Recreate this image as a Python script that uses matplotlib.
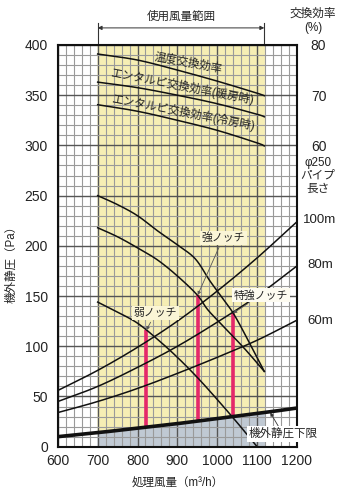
import numpy as np
import matplotlib
matplotlib.use("Agg")
import matplotlib.pyplot as plt
from matplotlib.ticker import MultipleLocator

plt.rcParams['font.family'] = ['Liberation Sans', 'Noto Sans CJK JP', 'DejaVu Sans']

# ---------------- data ----------------
x_ticks = [600, 700, 800, 900, 1000, 1100, 1200]
y_ticks = [0, 50, 100, 150, 200, 250, 300, 350, 400]
eff_ticks = [60, 70, 80]

range_start = 700
range_end = 1118

# efficiency curves (%)
eff_x = [700, 800, 900, 1000, 1100, 1118]
eff_temp = [78.2, 77.0, 75.0, 72.8, 70.4, 69.9]
eff_heat = [72.6, 71.5, 70.0, 68.3, 66.2, 65.7]
eff_cool = [68.1, 66.8, 65.0, 63.0, 60.5, 59.9]

# fan curves (Pa)
xs_tokkyo = [700, 750, 800, 850, 900, 945, 980, 1000, 1040, 1080, 1118]
ps_tokkyo = [250, 241, 230, 215, 201, 187, 166, 155, 133, 104, 75]
xs_kyo = [700, 750, 800, 850, 900, 950, 977, 1020, 1070, 1118]
ps_kyo = [218, 209, 198, 186, 170, 151, 136, 118, 97, 75]
xs_jaku = [700, 750, 800, 850, 900, 950, 1000, 1050, 1100]
ps_jaku = [144, 134, 123, 107, 89, 69, 47, 24, 0]

# pipe (duct) resistance curves (Pa)
pipe_x = [600, 700, 800, 900, 1000, 1100, 1200]
pipe_100 = [56, 76, 99, 125, 155, 188, 224]
pipe_80 = [45, 60, 79, 100, 124, 150, 180]
pipe_60 = [34, 45, 58, 73, 89, 106, 126]

# lower limit of external static pressure
low_x = [600, 700, 800, 900, 1000, 1100, 1200]
low_p = [10, 14, 18.5, 23, 28, 33, 38.5]

# notch operating points
notch_x = [822, 951, 1040]
notch_p = [116, 151, 133]
notch_labels = ['弱ノッチ', '強ノッチ', '特強ノッチ']


def smooth(x, y, n=30):
    x = np.asarray(x, float); y = np.asarray(y, float)
    px = np.concatenate([[2 * x[0] - x[1]], x, [2 * x[-1] - x[-2]]])
    py = np.concatenate([[2 * y[0] - y[1]], y, [2 * y[-1] - y[-2]]])
    ox, oy = [], []
    t = np.linspace(0, 1, n, endpoint=False)
    for i in range(1, len(px) - 2):
        p0, p1, p2, p3 = [np.array([px[j], py[j]]) for j in range(i - 1, i + 3)]
        pts = 0.5 * ((2 * p1)[:, None] + (-p0 + p2)[:, None] * t +
                     (2 * p0 - 5 * p1 + 4 * p2 - p3)[:, None] * t ** 2 +
                     (-p0 + 3 * p1 - 3 * p2 + p3)[:, None] * t ** 3)
        ox.extend(pts[0]); oy.extend(pts[1])
    ox.append(x[-1]); oy.append(y[-1])
    return np.array(ox), np.array(oy)


TXT = '#222222'
fig = plt.figure(figsize=(3.47, 4.91), dpi=100)
ax = fig.add_axes([0.1666, 0.0902, 0.6892, 0.8182])
ax.set_xlim(600, 1200)
ax.set_ylim(0, 400)

yellow = '#f6eeb4'
grayfill = '#c0c9d3'

# fills
lx, ly = smooth(low_x, low_p)
mask = (lx >= range_start) & (lx <= range_end)
ax.fill_between(lx[mask], ly[mask], 400, color=yellow, zorder=0)
ax.fill_between(lx[mask], 0, ly[mask], color=grayfill, zorder=0)

# grid
ax.xaxis.set_major_locator(MultipleLocator(100))
ax.xaxis.set_minor_locator(MultipleLocator(20))
ax.yaxis.set_major_locator(MultipleLocator(50))
ax.yaxis.set_minor_locator(MultipleLocator(10))
ax.grid(which='minor', color='#9a9a9a', lw=0.8, zorder=1)
ax.grid(which='major', color='#555555', lw=1.0, zorder=1)
ax.set_axisbelow(True)
ax.set_xticks(x_ticks)
ax.set_yticks(y_ticks)
ax.tick_params(which='both', length=0, labelsize=10, colors=TXT)
ax.tick_params(axis='y', pad=7)
ax.tick_params(axis='x', pad=5)
for s in ax.spines.values():
    s.set_linewidth(1.5)
    s.set_color('#111111')

# lower limit
ax.plot(lx, ly, color='#111111', lw=2.6, zorder=5)

# pipe curves
for py_ in (pipe_100, pipe_80, pipe_60):
    sx, sy = smooth(pipe_x, py_)
    ax.plot(sx, sy, color='#111111', lw=1.1, zorder=4)

# fan curves
for xx, pp in ((xs_tokkyo, ps_tokkyo), (xs_kyo, ps_kyo), (xs_jaku, ps_jaku)):
    sx, sy = smooth(xx, pp)
    ax.plot(sx, sy, color='#111111', lw=1.1, zorder=4)

# notch bars
for nx, npv in zip(notch_x, notch_p):
    base = np.interp(nx, low_x, low_p)
    ax.plot([nx, nx], [base, npv], color='#e5286a', lw=2.6, zorder=3,
            solid_capstyle='butt')

# efficiency curves on right axis
ax2 = ax.twinx()
ax2.set_ylim(0, 80)
ax2.set_yticks(eff_ticks)
ax2.tick_params(length=0, labelsize=10, colors=TXT, pad=10)
for s in ax2.spines.values():
    s.set_visible(False)
for ev in (eff_temp, eff_heat, eff_cool):
    sx, sy = smooth(eff_x, ev)
    ax2.plot(sx, sy, color='#111111', lw=1.1, zorder=4)

# texts along efficiency curves (each sits just above its curve)
tk = dict(fontsize=8.3, color=TXT, ha='center', va='center', zorder=6)
ax2.text(927, 76.4, '温度交換効率', rotation=-10.5, **tk)
ax2.text(912, 71.8, 'エンタルピ交換効率(暖房時)', rotation=-11, **tk)
ax2.text(914, 66.6, 'エンタルピ交換効率(冷房時)', rotation=-11, **tk)

# notch labels
arrow_kw = dict(arrowstyle='-|>', color='#555555', lw=0.6,
                mutation_scale=5, shrinkA=2, shrinkB=0)
ax.annotate(notch_labels[0], xy=(notch_x[0], notch_p[0]), xytext=(845, 133),
            fontsize=7.8, ha='center', va='center', color=TXT,
            bbox=dict(boxstyle='square,pad=0.15', fc='#faf5d6', ec='none'),
            arrowprops=arrow_kw, zorder=7)
ax.annotate(notch_labels[1], xy=(notch_x[1], notch_p[1]), xytext=(1015, 208),
            fontsize=7.8, ha='center', va='center', color=TXT,
            bbox=dict(boxstyle='square,pad=0.15', fc='#faf5d6', ec='none'),
            arrowprops=arrow_kw, zorder=7)
ax.annotate(notch_labels[2], xy=(notch_x[2], notch_p[2]), xytext=(1110, 151),
            fontsize=7.8, ha='center', va='center', color=TXT,
            bbox=dict(boxstyle='square,pad=0.15', fc='#fdfbf0', ec='none'),
            arrowprops=arrow_kw, zorder=7)

# lower limit label
ax.annotate('機外静圧下限', xy=(1133, 34), xytext=(1165, 12.5),
            fontsize=8.3, ha='center', va='center', color=TXT,
            bbox=dict(boxstyle='square,pad=0.15', fc='white', ec='none'),
            arrowprops=dict(arrowstyle='-|>', color='#333333', lw=0.6,
                            mutation_scale=5, shrinkA=0, shrinkB=0),
            annotation_clip=False, zorder=8)

# usage range arrow on top
ax.plot([range_start, range_start], [400, 422], color='#333333', lw=0.8,
        clip_on=False)
ax.plot([range_end, range_end], [400, 422], color='#333333', lw=0.8,
        clip_on=False)
ax.annotate('', xy=(range_start, 417), xytext=(range_end, 417),
            arrowprops=dict(arrowstyle='<|-|>', color='#333333', lw=0.7,
                            mutation_scale=6, shrinkA=0, shrinkB=0),
            annotation_clip=False)
ax.text((range_start + range_end) / 2, 428, '使用風量範囲', fontsize=8.3,
        ha='center', va='center', color=TXT, clip_on=False)

# right side labels
fig.text(313 / 347, 1 - 14 / 491, '交換効率', fontsize=8.4, ha='center',
         va='center', color=TXT)
fig.text(313 / 347, 1 - 28 / 491, '(%)', fontsize=8.4, ha='center',
         va='center', color=TXT)
for txt, yy in (('φ250', 163), ('パイプ', 176), ('長さ', 189)):
    fig.text(318 / 347, 1 - yy / 491, txt, fontsize=8.4, ha='center',
             va='center', color=TXT)
for txt, yy in (('100m', 220), ('80m', 265), ('60m', 321)):
    fig.text(320 / 347, 1 - yy / 491, txt, fontsize=9.5, ha='center',
             va='center', color=TXT)

ax.set_xlabel('処理風量（m³/h）', fontsize=8.3, color=TXT, labelpad=7)
ax.set_ylabel('機外静圧（Pa）', fontsize=8.3, color=TXT)
ax.yaxis.set_label_coords(-0.167, 0.46)

fig.savefig('out.png', dpi=100)
